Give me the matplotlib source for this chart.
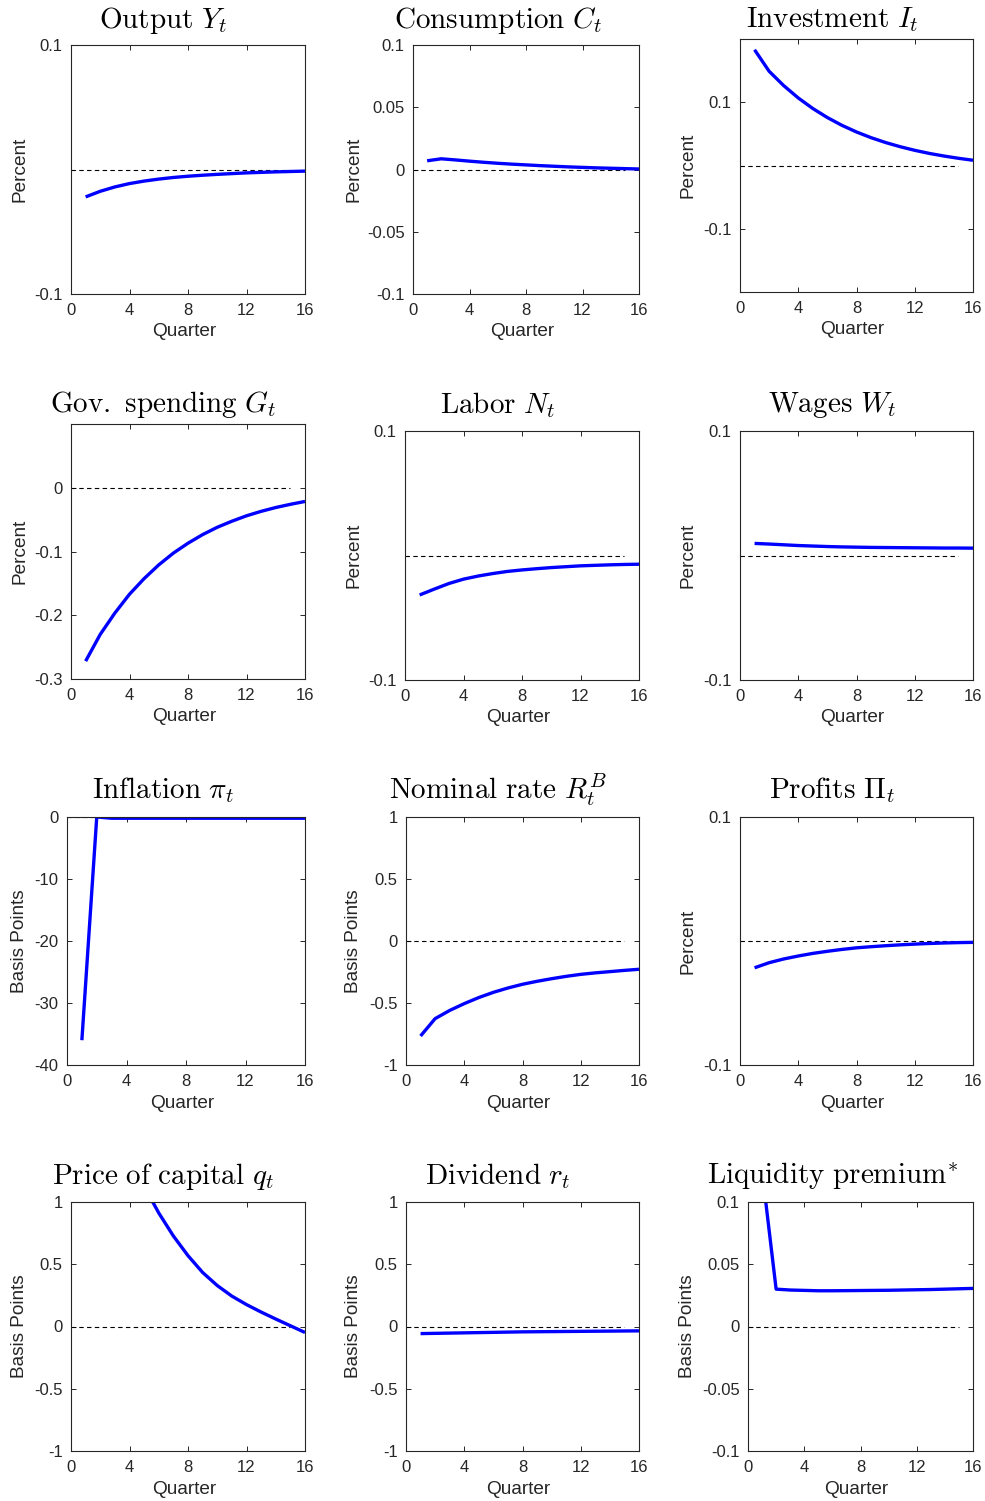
import numpy as np
import matplotlib
matplotlib.use("Agg")
import matplotlib.pyplot as plt
from matplotlib.ticker import FuncFormatter

# ---------------- data ----------------
quarters = np.arange(1, 17)

output = [-0.022, -0.0175, -0.014, -0.0113, -0.0093, -0.0077, -0.0064, -0.0054,
          -0.0046, -0.0039, -0.0033, -0.0027, -0.0023, -0.0019, -0.0016, -0.0013]
consumption = [0.0070, 0.0086, 0.0077, 0.0067, 0.0058, 0.0050, 0.0043, 0.0037,
               0.0031, 0.0026, 0.0021, 0.0017, 0.0013, 0.0010, 0.0007, 0.0004]
investment = [0.183, 0.149, 0.1263, 0.1068, 0.0901, 0.0758, 0.0635, 0.0530,
              0.0440, 0.0363, 0.0297, 0.0240, 0.0191, 0.0150, 0.0114, 0.0083]
gov_spending = [-0.272, -0.230, -0.1965, -0.167, -0.1425, -0.121, -0.1025, -0.087,
                -0.0735, -0.062, -0.0525, -0.044, -0.037, -0.031, -0.026, -0.0215]
labor = [-0.0317, -0.027, -0.0225, -0.019, -0.0165, -0.0145, -0.0128, -0.0116,
         -0.0106, -0.0097, -0.0090, -0.0083, -0.0079, -0.0075, -0.0072, -0.0070]
wages = [0.0097, 0.0092, 0.0086, 0.0080, 0.0076, 0.0072, 0.0069, 0.0067,
         0.0065, 0.0064, 0.0063, 0.0062, 0.0061, 0.0060, 0.0060, 0.0059]
inflation = [-36.0, 0.0, -0.2, -0.2, -0.2, -0.2, -0.2, -0.2,
             -0.2, -0.2, -0.2, -0.2, -0.2, -0.2, -0.2, -0.2]
nominal_rate = [-0.766, -0.626, -0.560, -0.505, -0.456, -0.414, -0.379, -0.349,
                -0.325, -0.304, -0.285, -0.269, -0.257, -0.247, -0.237, -0.228]
profits = [-0.0216, -0.0175, -0.0145, -0.0121, -0.0100, -0.0083, -0.0068, -0.0055,
           -0.0046, -0.0038, -0.0031, -0.0025, -0.0020, -0.0016, -0.0013, -0.0011]
price_capital = [2.41, 2.01, 1.67, 1.38, 1.127, 0.912, 0.727, 0.569,
                 0.434, 0.329, 0.244, 0.176, 0.116, 0.060, 0.006, -0.048]
dividend = [-0.057, -0.055, -0.053, -0.051, -0.049, -0.047, -0.045, -0.043,
            -0.042, -0.041, -0.040, -0.039, -0.038, -0.037, -0.036, -0.035]
liquidity = [0.125, 0.030, 0.0293, 0.0290, 0.0287, 0.0287, 0.0288, 0.0289,
             0.0290, 0.0291, 0.0293, 0.0295, 0.0297, 0.0300, 0.0303, 0.0306]

titles = [r'$\mathrm{Output}\ Y_t$', r'$\mathrm{Consumption}\ C_t$', r'$\mathrm{Investment}\ I_t$',
          r'$\mathrm{Gov.\ spending}\ G_t$', r'$\mathrm{Labor}\ N_t$', r'$\mathrm{Wages}\ W_t$',
          r'$\mathrm{Inflation}\ \pi_t$', r'$\mathrm{Nominal\ rate}\ R_t^B$', r'$\mathrm{Profits}\ \Pi_t$',
          r'$\mathrm{Price\ of\ capital}\ q_t$', r'$\mathrm{Dividend}\ r_t$',
          r'$\mathrm{Liquidity\ premium}^{*}$']
ylabels = ['Percent'] * 6 + ['Basis Points', 'Basis Points', 'Percent',
                             'Basis Points', 'Basis Points', 'Basis Points']
series = [output, consumption, investment, gov_spending, labor, wages,
          inflation, nominal_rate, profits, price_capital, dividend, liquidity]
ylims = [(-0.1, 0.1), (-0.1, 0.1), (-0.2, 0.2), (-0.3, 0.1), (-0.1, 0.1), (-0.1, 0.1),
         (-40, 0), (-1, 1), (-0.1, 0.1), (-1, 1), (-1, 1), (-0.1, 0.1)]
yticks = [[-0.1, 0.1], [-0.1, -0.05, 0, 0.05, 0.1], [-0.1, 0.1], [-0.3, -0.2, -0.1, 0],
          [-0.1, 0.1], [-0.1, 0.1], [-40, -30, -20, -10, 0], [-1, -0.5, 0, 0.5, 1],
          [-0.1, 0.1], [-1, -0.5, 0, 0.5, 1], [-1, -0.5, 0, 0.5, 1],
          [-0.1, -0.05, 0, 0.05, 0.1]]
xticks = [0, 4, 8, 12, 16]

# ---------------- layout (pixels) ----------------
W, H = 985, 1501
rects = [(71, 45, 305, 294), (413, 45, 639, 294), (740, 39, 973, 292),
         (71, 424, 305, 679), (405, 431, 639, 680), (740, 431, 973, 680),
         (67, 817, 305, 1065), (406, 817, 639, 1065), (740, 817, 973, 1065),
         (71, 1202, 305, 1451), (406, 1202, 639, 1451), (748, 1202, 973, 1451)]
title_x = [163, 498, 832]
title_y = [20, 405, 790, 1176]
ylab_x = [20, 354, 688]

plt.rcParams['mathtext.fontset'] = 'cm'
plt.rcParams['font.family'] = ['Liberation Sans', 'DejaVu Sans']
axcol = '#262626'

fig = plt.figure(figsize=(W / 100, H / 100), dpi=100)

fmt = FuncFormatter(lambda v, p: ('%g' % v) if abs(v) > 1e-12 else '0')

for i in range(12):
    l, t, r, b = rects[i]
    ax = fig.add_axes([l / W, 1 - b / H, (r - l) / W, (b - t) / H])
    ax.plot([0, 15], [0, 0], color='black', lw=0.8, dashes=(4, 3))
    ax.plot(quarters, series[i], color=(0, 0, 1), lw=2.4, solid_capstyle='butt')
    ax.set_xlim(0, 16)
    ax.set_ylim(*ylims[i])
    ax.set_xticks(xticks)
    ax.set_yticks(yticks[i])
    ax.yaxis.set_major_formatter(fmt)
    ax.tick_params(direction='in', length=3.5, width=0.7, colors=axcol,
                   labelsize=12, top=True, right=True, pad=6.5)
    ax.tick_params(axis='y', pad=6)
    for s in ax.spines.values():
        s.set_color(axcol)
        s.set_linewidth(0.8)
    row, col = divmod(i, 3)
    fig.text(title_x[col] / W, 1 - title_y[row] / H, titles[i], fontsize=21,
             ha='center', va='center', color='black')
    fig.text(ylab_x[col] / W, 1 - ((t + b) / 2) / H, ylabels[i], rotation=90,
             fontsize=13.7, ha='center', va='center', color=axcol)
    fig.text(((l + r) / 2 - 4) / W, 1 - (b + 38) / H, 'Quarter', fontsize=13.7,
             ha='center', va='center', color=axcol)

fig.savefig('out.png', dpi=100, facecolor='white')
